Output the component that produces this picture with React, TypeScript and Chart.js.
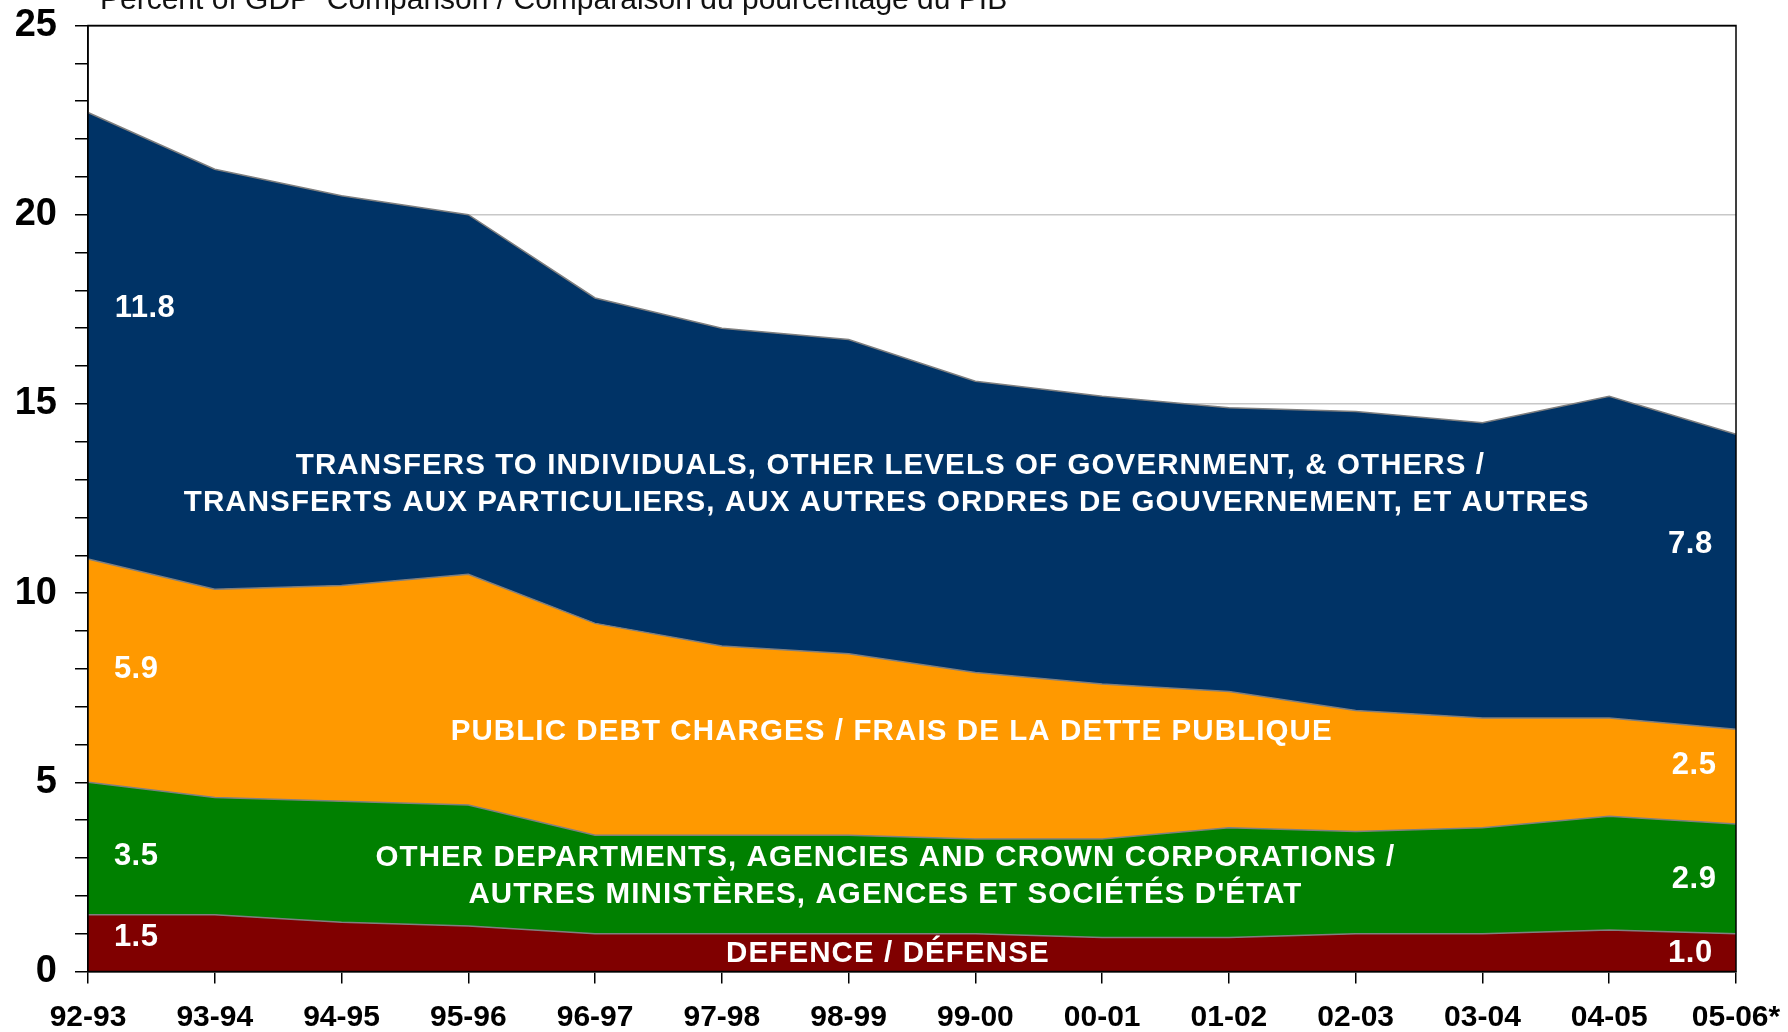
import React, { useEffect, useRef } from "react";
import { Chart, registerables } from "chart.js";

Chart.register(...registerables);

const categories = ["92-93", "93-94", "94-95", "95-96", "96-97", "97-98", "98-99", "99-00", "00-01", "01-02", "02-03", "03-04", "04-05", "05-06*"];
const defence = [1.5, 1.5, 1.3, 1.2, 1.0, 1.0, 1.0, 1.0, 0.9, 0.9, 1.0, 1.0, 1.1, 1.0];
const otherDepartments = [3.5, 3.1, 3.2, 3.2, 2.6, 2.6, 2.6, 2.5, 2.6, 2.9, 2.7, 2.8, 3.0, 2.9];
const publicDebt = [5.9, 5.5, 5.7, 6.1, 5.6, 5.0, 4.8, 4.4, 4.1, 3.6, 3.2, 2.9, 2.6, 2.5];
const transfers = [11.8, 11.1, 10.3, 9.5, 8.6, 8.4, 8.3, 7.7, 7.6, 7.5, 7.9, 7.8, 8.5, 7.8];

const title = "Percent of GDP  Comparison / Comparaison du pourcentage du PIB";

const valueLabels = [
  { text: "11.8", x: 0.45, y: 17.6 },
  { text: "5.9", x: 0.38, y: 8.04 },
  { text: "3.5", x: 0.38, y: 3.1 },
  { text: "1.5", x: 0.38, y: 0.96 },
  { text: "7.8", x: 12.64, y: 11.36 },
  { text: "2.5", x: 12.67, y: 5.5 },
  { text: "2.9", x: 12.67, y: 2.5 },
  { text: "1.0", x: 12.64, y: 0.54 },
];

const seriesLabels = [
  { text: "TRANSFERS TO INDIVIDUALS, OTHER LEVELS OF GOVERNMENT, & OTHERS /", x: 6.33, y: 13.43 },
  { text: "TRANSFERTS AUX PARTICULIERS, AUX AUTRES ORDRES DE GOUVERNEMENT, ET AUTRES", x: 6.3, y: 12.44 },
  { text: "PUBLIC DEBT CHARGES / FRAIS DE LA DETTE PUBLIQUE", x: 6.34, y: 6.39 },
  { text: "OTHER DEPARTMENTS, AGENCIES AND CROWN CORPORATIONS /", x: 6.29, y: 3.07 },
  { text: "AUTRES MINISTÈRES, AGENCES ET SOCIÉTÉS D'ÉTAT", x: 6.29, y: 2.08 },
  { text: "DEFENCE / DÉFENSE", x: 6.31, y: 0.54 },
];

const FONT = "'Liberation Sans', Arial, Helvetica, sans-serif";

export default function App() {
  const ref = useRef<HTMLCanvasElement | null>(null);

  useEffect(() => {
    const canvas = ref.current;
    if (!canvas) return;

    const overlay = {
      id: "overlay",
      afterDatasetsDraw(chart: any) {
        const { ctx, chartArea, scales } = chart;
        ctx.save();
        ctx.strokeStyle = "#000";
        ctx.lineWidth = 1.5;
        ctx.strokeRect(chartArea.left, chartArea.top, chartArea.right - chartArea.left, chartArea.bottom - chartArea.top);
        ctx.fillStyle = "#fff";
        ctx.textAlign = "center";
        ctx.textBaseline = "middle";
        const dy = 2.5;
        ctx.font = `bold 29.5px ${FONT}`;
        (ctx as any).letterSpacing = "1.1px";
        for (const a of seriesLabels) {
          ctx.fillText(a.text, scales.x.getPixelForValue(a.x), scales.y.getPixelForValue(a.y) + dy);
        }
        ctx.font = `bold 31px ${FONT}`;
        (ctx as any).letterSpacing = "0.5px";
        for (const a of valueLabels) {
          ctx.fillText(a.text, scales.x.getPixelForValue(a.x), scales.y.getPixelForValue(a.y) + dy);
        }
        (ctx as any).letterSpacing = "0px";
        ctx.fillStyle = "#111";
        ctx.font = `30px ${FONT}`;
        ctx.textAlign = "left";
        ctx.textBaseline = "alphabetic";
        ctx.fillText(title, 100, 9);
        ctx.restore();
      },
    };

    const line = (label: string, data: number[], color: string, fill: any) => ({
      label,
      data,
      backgroundColor: color,
      borderColor: "#7f7f7f",
      borderWidth: 1.5,
      pointRadius: 0,
      tension: 0,
      fill,
    });

    const chart = new Chart(canvas, {
      type: "line",
      data: {
        labels: categories,
        datasets: [
          line("Defence", defence, "#800000", "origin"),
          line("Other departments", otherDepartments, "#008000", "-1"),
          line("Public debt charges", publicDebt, "#FF9900", "-1"),
          line("Transfers", transfers, "#003366", "-1"),
        ],
      },
      options: {
        responsive: false,
        animation: false,
        layout: { padding: { top: 25.5, right: 52, left: 0, bottom: 0 } },
        plugins: { legend: { display: false }, tooltip: { enabled: false }, title: { display: false } },
        scales: {
          x: {
            type: "category",
            offset: false,
            grid: { drawOnChartArea: false, color: "#000", tickColor: "#000", tickLength: 12, lineWidth: 1.5 },
            border: { display: true, color: "#000", width: 1.5 },
            ticks: { font: { family: FONT, size: 30, weight: "bold" }, color: "#000", autoSkip: false, maxRotation: 0, minRotation: 0, padding: 16 },
            afterFit: (s: any) => { s.height = 60.5; s.paddingLeft = 0; s.paddingRight = 0; },
          },
          y: {
            stacked: true,
            min: 0,
            max: 25,
            grid: {
              color: (c: any) => {
                const v = c.tick ? c.tick.value : 0;
                if (v === 25) return "#000";
                if (v % 5 === 0) return "#c8c8c8";
                return "rgba(0,0,0,0)";
              },
              tickColor: "#000",
              tickLength: 13,
              lineWidth: 1.5,
            },
            border: { display: true, color: "#000", width: 1.5 },
            ticks: {
              stepSize: 1,
              autoSkip: false,
              callback: (v: any) => (Number(v) % 5 === 0 ? String(v) : ""),
              font: { family: FONT, size: 38, weight: "bold" },
              color: "#000",
              padding: 18,
            },
            afterFit: (s: any) => { s.width = 88; s.paddingTop = 0; s.paddingBottom = 0; },
          },
        },
      },
      plugins: [overlay],
    } as any);

    return () => chart.destroy();
  }, []);

  return (
    <canvas
      ref={ref}
      width={1788}
      height={1032}
      style={{ position: "absolute", left: 0, top: 0, width: 1788, height: 1032, display: "block" }}
    />
  );
}
